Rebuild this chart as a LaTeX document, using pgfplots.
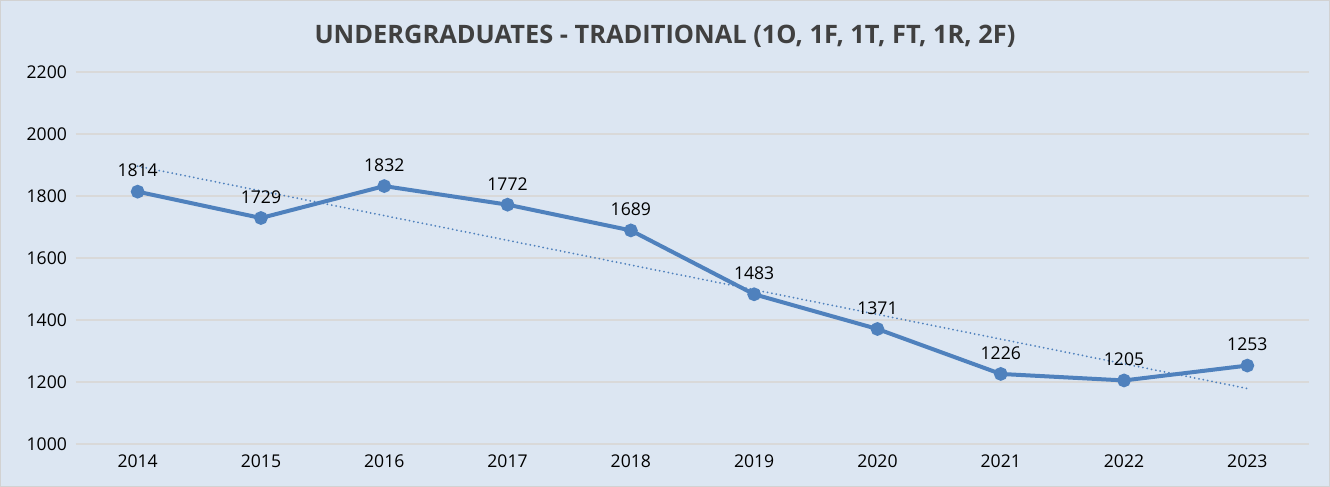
\documentclass[border=0pt]{standalone}
\usepackage{fontspec}
\setmainfont{Open Sans}
\usepackage{pgfplots}
\pgfplotsset{compat=1.18}
\definecolor{bgBlue}{HTML}{DCE6F2}
\definecolor{lineBlue}{HTML}{4F81BD}
\definecolor{gridGray}{HTML}{D9D9D9}
\definecolor{titleGray}{HTML}{404040}

\pgfplotstableread{
x y
0 1814
1 1729
2 1832
3 1772
4 1689
5 1483
6 1371
7 1226
8 1205
9 1253
}\enrol

\begin{document}
\begin{tikzpicture}
% chart area
\fill[bgBlue] (-38pt,-21.5pt) rectangle (627pt,222pt);
\draw[gray!35,line width=0.5pt] (-37.75pt,-21.25pt) rectangle (626.75pt,221.75pt);
\node[font=\bfseries\fontsize{12.7}{15}\selectfont,text=titleGray] at (294.5pt,204pt)
  {UNDERGRADUATES - TRADITIONAL (1O, 1F, 1T, FT, 1R, 2F)};
\begin{axis}[
  scale only axis,
  width=616.5pt, height=186pt,
  xmin=-0.5, xmax=9.5,
  ymin=1000, ymax=2200,
  ytick={1000,1200,...,2200},
  xtick={0,...,9},
  xticklabels={2014,2015,2016,2017,2018,2019,2020,2021,2022,2023},
  axis line style={draw=none},
  major tick length=0pt,
  ymajorgrids,
  grid style={gridGray,line width=0.6pt},
  tick label style={font=\fontsize{8.8}{11}\selectfont,text=black},
  yticklabel style={xshift=-1pt},
  xticklabel style={yshift=-2pt},
  /pgf/number format/assume math mode=true,
  /pgf/number format/1000 sep={},
  clip=false,
]
\addplot[lineBlue,line width=1pt,dash pattern=on 0pt off 2.2pt,line cap=round]
  coordinates {(0,1896) (9,1179)};
\addplot[lineBlue,line width=2pt,mark=*,mark size=2.4pt,
  nodes near coords,
  every node near coord/.style={font=\fontsize{8.8}{11}\selectfont,text=black,anchor=south,yshift=3pt}]
  table[x=x,y=y] {\enrol};
\end{axis}
\end{tikzpicture}
\end{document}
